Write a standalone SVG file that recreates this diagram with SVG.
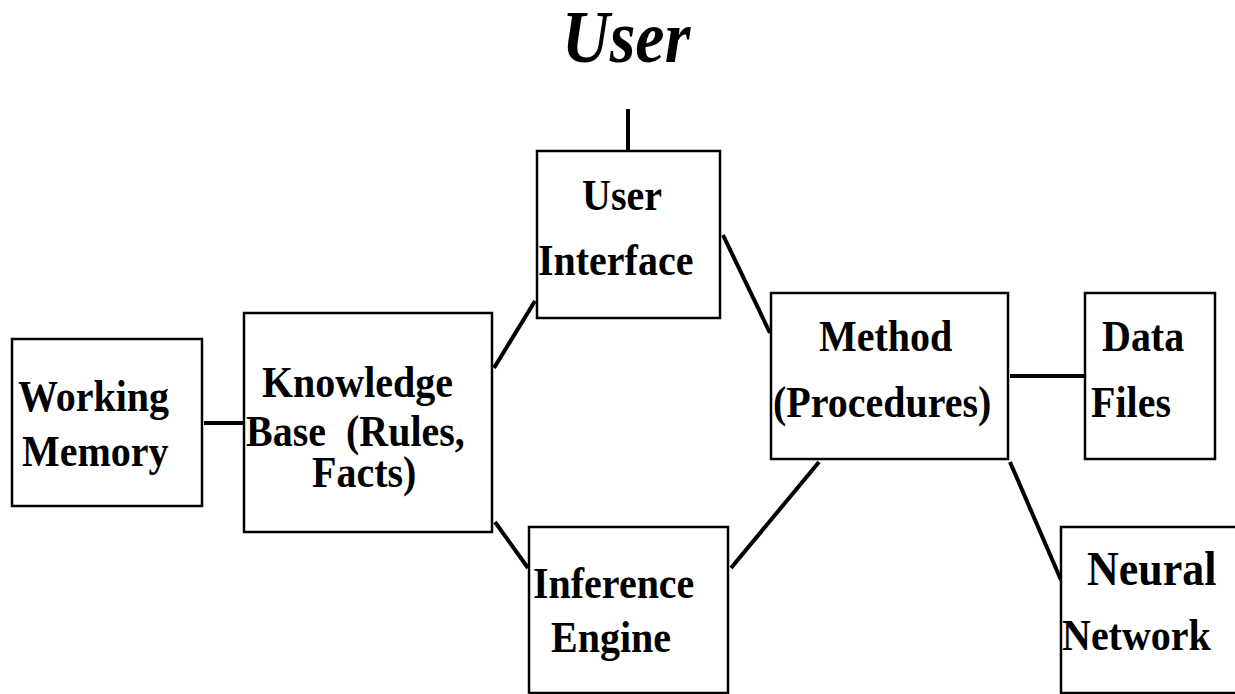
<svg xmlns="http://www.w3.org/2000/svg" width="1235" height="694" viewBox="0 0 1235 694">
<style>
.box{fill:#fff;stroke:#000;stroke-width:2.5}
.t{font-family:"Liberation Serif","Times New Roman",serif;font-weight:bold;font-size:40px;fill:#000}
.c{stroke:#000;stroke-width:4;fill:none}
</style>
<rect width="1235" height="694" fill="#fff"/>
<text transform="translate(562 62) scale(1 1.12)" class="t" style="font-size:66px;font-style:italic">User</text>
<g id="connectors">
<line class="c" x1="628" y1="109" x2="628" y2="151"/>
<line class="c" x1="204" y1="423" x2="244" y2="423"/>
<line class="c" x1="494" y1="368" x2="535" y2="301"/>
<line class="c" x1="495" y1="522" x2="528" y2="568"/>
<line class="c" x1="723" y1="235" x2="770" y2="333"/>
<line class="c" x1="731" y1="568" x2="819" y2="462"/>
<line class="c" x1="1010" y1="376" x2="1085" y2="376"/>
<line class="c" x1="1010" y1="462" x2="1061" y2="580"/>
</g>
<g id="working-memory">
<rect class="box" x="12" y="339" width="190" height="167"/>
<text class="t" transform="translate(18 411) scale(1 1.12)">Working</text>
<text class="t" transform="translate(22 466) scale(1 1.12)">Memory</text>
</g>
<g id="knowledge-base">
<rect class="box" x="244" y="313" width="248" height="219"/>
<text class="t" transform="translate(262 397) scale(1 1.12)">Knowledge</text>
<text class="t" transform="translate(246 446) scale(1 1.12)" xml:space="preserve">Base  (Rules,</text>
<text class="t" transform="translate(312 487) scale(1 1.12)">Facts)</text>
</g>
<g id="user-interface">
<rect class="box" x="537" y="151" width="183" height="167"/>
<text class="t" transform="translate(582 210) scale(1 1.12)">User</text>
<text class="t" transform="translate(538 275) scale(1 1.12)">Interface</text>
</g>
<g id="inference-engine">
<rect class="box" x="529" y="527" width="199" height="166"/>
<text class="t" transform="translate(533 598) scale(1 1.12)">Inference</text>
<text class="t" transform="translate(551 652) scale(1 1.12)">Engine</text>
</g>
<g id="method">
<rect class="box" x="771" y="293" width="237" height="166"/>
<text class="t" transform="translate(819 351) scale(1 1.12)">Method</text>
<text class="t" transform="translate(773 417) scale(1 1.12)">(Procedures)</text>
</g>
<g id="data-files">
<rect class="box" x="1085" y="293" width="130" height="166"/>
<text class="t" transform="translate(1102 351) scale(1 1.12)">Data</text>
<text class="t" transform="translate(1091 417) scale(1 1.12)">Files</text>
</g>
<g id="neural-network">
<rect class="box" x="1061" y="527" width="190" height="166"/>
<text class="t" transform="translate(1087 585) scale(1 1.12)" style="font-size:44px">Neural</text>
<text class="t" transform="translate(1062 650) scale(1 1.12)">Network</text>
</g>
</svg>
